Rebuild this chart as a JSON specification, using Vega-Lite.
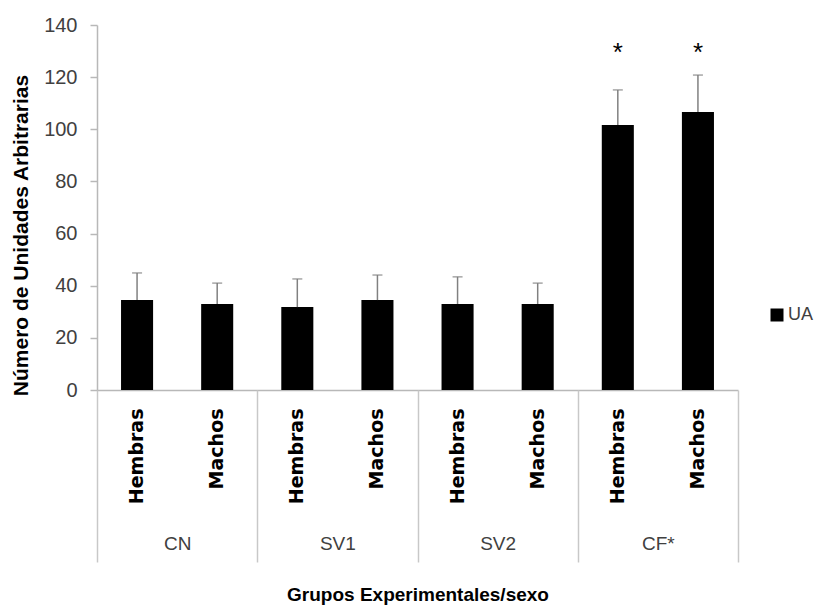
{
  "$schema": "https://vega.github.io/schema/vega-lite/v6.json",
  "width": 641,
  "height": 365,
  "autosize": "none",
  "padding": {"left": 97, "top": 25, "right": 78, "bottom": 217},
  "background": "white",
  "config": {"view": {"stroke": null}, "font": "Liberation Sans"},
  "data": {
    "values": [
      {"key": "CN|Hembras", "grupo": "CN", "sexo": "Hembras", "serie": "UA", "media": 34.5, "superior": 44.9, "sig": ""},
      {"key": "CN|Machos", "grupo": "CN", "sexo": "Machos", "serie": "UA", "media": 33.0, "superior": 41.0, "sig": ""},
      {"key": "SV1|Hembras", "grupo": "SV1", "sexo": "Hembras", "serie": "UA", "media": 31.8, "superior": 42.6, "sig": ""},
      {"key": "SV1|Machos", "grupo": "SV1", "sexo": "Machos", "serie": "UA", "media": 34.5, "superior": 44.1, "sig": ""},
      {"key": "SV2|Hembras", "grupo": "SV2", "sexo": "Hembras", "serie": "UA", "media": 33.0, "superior": 43.4, "sig": ""},
      {"key": "SV2|Machos", "grupo": "SV2", "sexo": "Machos", "serie": "UA", "media": 33.0, "superior": 41.0, "sig": ""},
      {"key": "CF*|Hembras", "grupo": "CF*", "sexo": "Hembras", "serie": "UA", "media": 101.6, "superior": 115.1, "sig": "*"},
      {"key": "CF*|Machos", "grupo": "CF*", "sexo": "Machos", "serie": "UA", "media": 106.6, "superior": 120.8, "sig": "*"}
    ]
  },
  "layer": [
    {
      "encoding": {
        "x": {
          "field": "key",
          "type": "nominal",
          "sort": null,
          "scale": {"paddingInner": 0.6, "paddingOuter": 0.3},
          "axis": {
            "title": null,
            "orient": "bottom",
            "labelExpr": "split(datum.value, '|')[1]",
            "labelAngle": 270,
            "labelAlign": "right",
            "labelBaseline": "middle",
            "labelPadding": 18,
            "labelFont": "DejaVu Sans",
            "labelFontSize": 19,
            "labelFontWeight": "bold",
            "labelColor": "#000000",
            "ticks": false,
            "domainColor": "#b8b8b8",
            "domainWidth": 1.5
          }
        }
      },
      "layer": [
        {
          "mark": {"type": "bar"},
          "encoding": {
            "y": {
              "field": "media",
              "type": "quantitative",
              "scale": {"domain": [0, 140], "nice": false},
              "axis": {
                "title": "Número de Unidades Arbitrarias",
                "values": [0, 20, 40, 60, 80, 100, 120, 140],
                "grid": false,
                "domainColor": "#b8b8b8",
                "domainWidth": 1.5,
                "tickColor": "#b8b8b8",
                "tickSize": 7,
                "tickWidth": 1.5,
                "labelPadding": 13,
                "labelFont": "Liberation Sans",
                "labelFontSize": 20,
                "labelColor": "#404040",
                "titleFont": "Liberation Sans",
                "titleFontSize": 21,
                "titleFontWeight": "bold",
                "titleColor": "#000000",
                "titleY": 210,
                "titlePadding": 12
              }
            },
            "color": {
              "field": "serie",
              "type": "nominal",
              "scale": {"range": ["#000000"]},
              "legend": {
                "title": null,
                "orient": "none",
                "legendX": 671,
                "legendY": 281,
                "padding": 0,
                "symbolType": "square",
                "symbolSize": 169,
                "symbolStrokeWidth": 0,
                "labelFont": "Liberation Sans",
                "labelFontSize": 18,
                "labelColor": "#404040",
                "labelOffset": 2
              }
            }
          }
        },
        {
          "mark": {"type": "rule", "color": "#808080", "strokeWidth": 1.5},
          "encoding": {
            "y": {"field": "media", "type": "quantitative"},
            "y2": {"field": "superior"}
          }
        },
        {
          "mark": {"type": "tick", "color": "#808080", "thickness": 1.5, "size": 10},
          "encoding": {
            "y": {"field": "superior", "type": "quantitative"}
          }
        },
        {
          "mark": {"type": "text", "font": "Liberation Sans", "fontSize": 26, "color": "#000000", "baseline": "middle", "dy": 5},
          "encoding": {
            "y": {"datum": 131},
            "text": {"field": "sig"}
          }
        }
      ]
    },
    {
      "mark": {"type": "bar", "opacity": 0},
      "encoding": {
        "x": {
          "field": "grupo",
          "type": "nominal",
          "sort": ["CN", "SV1", "SV2", "CF*"],
          "scale": {"paddingInner": 0, "paddingOuter": 0},
          "axis": {
            "orient": "bottom",
            "title": "Grupos Experimentales/sexo",
            "titleFont": "Liberation Sans",
            "titleFontSize": 19,
            "titleFontWeight": "bold",
            "titleColor": "#000000",
            "titlePadding": 23,
            "domain": false,
            "tickBand": "extent",
            "tickSize": 172,
            "tickColor": "#c8c8c8",
            "tickWidth": 1.5,
            "labelAngle": 0,
            "labelPadding": -28,
            "labelFont": "Liberation Sans",
            "labelFontSize": 19,
            "labelColor": "#404040"
          }
        },
        "y": {"field": "media", "type": "quantitative"}
      }
    }
  ],
  "resolve": {"scale": {"x": "independent"}, "axis": {"x": "independent"}}
}
